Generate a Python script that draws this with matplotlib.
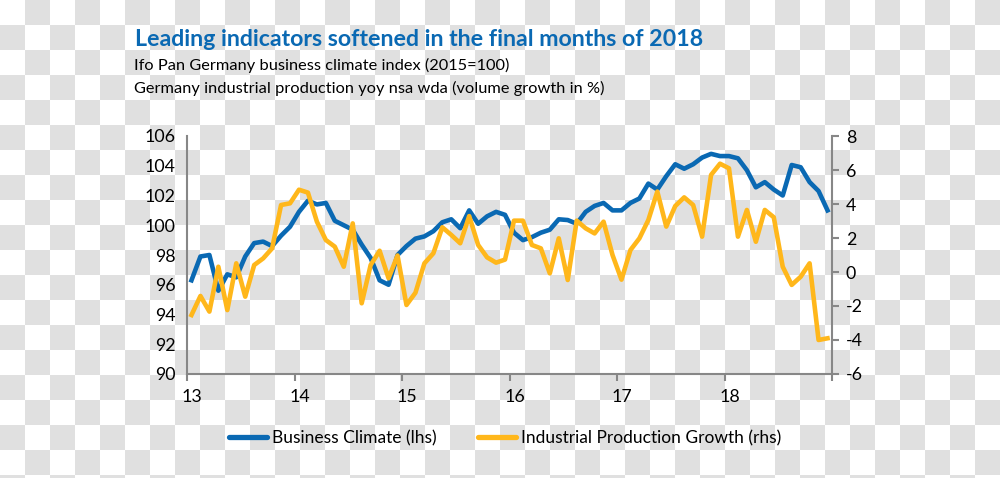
import numpy as np
import matplotlib
matplotlib.use("Agg")
import matplotlib.pyplot as plt
import matplotlib.transforms as mtransforms

# Monthly data, Jan 2013 .. Dec 2018
business_climate = [
    96.3, 97.9, 98.0, 95.6, 96.7, 96.5, 97.9, 98.8, 98.9, 98.6, 99.3, 99.9,
    100.9, 101.65, 101.4, 101.5, 100.3, 100.0, 99.7, 98.7, 97.8, 96.3, 96.0, 98.0,
    98.6, 99.1, 99.25, 99.6, 100.2, 100.4, 99.8, 101.0, 100.1, 100.6, 100.9, 100.7,
    99.5, 99.0, 99.2, 99.5, 99.7, 100.4, 100.35, 100.1, 100.9, 101.3, 101.5, 101.0,
    101.0, 101.5, 101.8, 102.8, 102.4, 103.3, 104.1, 103.8, 104.1, 104.55, 104.8, 104.65,
    104.65, 104.5, 103.7, 102.55, 102.9, 102.4, 102.0, 104.05, 103.9, 102.9, 102.3, 101.0,
]
production_growth = [
    -2.53, -1.41, -2.33, 0.31, -2.24, 0.51, -1.45, 0.41, 0.8, 1.39, 3.94, 4.04,
    4.84, 4.67, 2.96, 1.88, 1.49, 0.31, 2.86, -1.84, 0.41, 1.25, -0.37, 0.97,
    -1.94, -1.22, 0.51, 1.1, 2.63, 2.18, 1.69, 3.29, 1.59, 0.86, 0.55, 0.73,
    3.02, 3.02, 1.59, 1.39, -0.08, 1.98, -0.47, 3.02, 2.57, 2.27, 2.96, 1.0,
    -0.45, 1.29, 1.98, 3.06, 4.73, 2.67, 3.88, 4.39, 3.94, 2.08, 5.71, 6.37,
    6.1, 2.08, 3.65, 1.78, 3.65, 3.22, 0.31, -0.76, -0.28, 0.51, -4.0, -3.9,
]
start_year = 13
year_labels = ["13", "14", "15", "16", "17", "18"]

title = "Leading indicators softened in the final months of 2018"
subtitle1 = "Ifo Pan Germany business climate index (2015=100)"
subtitle2 = "Germany industrial production yoy nsa wda (volume growth in %)"
label_lhs = "Business Climate (lhs)"
label_rhs = "Industrial Production Growth (rhs)"

BLUE = "#0a69b3"
ORANGE = "#ffb71b"
GREY = "#878787"

plt.rcParams["font.family"] = ["Lato", "DejaVu Sans"]
plt.rcParams["axes.unicode_minus"] = False

W, H = 1000, 478
fig = plt.figure(figsize=(W / 100, H / 100), dpi=100, facecolor="white")

# transparent-looking checkerboard background
yy, xx = np.indices((H, W))
checker = ((xx // 25 + yy // 25) % 2).astype(float)
bg = np.where(checker[..., None] > 0, np.array([0xe0, 0xe0, 0xe0]) / 255, np.ones(3))
fig.figimage(bg, xo=0, yo=0, origin="upper", zorder=-10)

ax = fig.add_axes([187 / W, 1 - 374 / H, (832 - 187) / W, (374 - 136) / H])
ax2 = ax.twinx()
for a in (ax, ax2):
    a.patch.set_alpha(0)

n = len(business_climate)
x = start_year + (np.arange(n) + 0.5) / 12

ax.plot(x, business_climate, color=BLUE, lw=3.3, solid_joinstyle="round")
ax2.plot(x, production_growth, color=ORANGE, lw=3.3, solid_joinstyle="round")

ax.set_xlim(start_year, start_year + 6)
ax.set_ylim(90, 106)
ax2.set_ylim(-6, 8)
ax.set_yticks(np.arange(90, 107, 2))
ax2.set_yticks(np.arange(-6, 9, 2))
ax.set_xticks(np.arange(start_year, start_year + 7))
ax.set_xticklabels(year_labels + [""])

for a in (ax, ax2):
    a.spines["top"].set_visible(False)
    for side in ("left", "right", "bottom"):
        a.spines[side].set_color(GREY)
        a.spines[side].set_linewidth(1.5)
ax.spines["right"].set_visible(False)
ax2.spines["left"].set_visible(False)
ax2.spines["bottom"].set_visible(False)

ax.tick_params(axis="y", length=0, labelsize=12.8, pad=8)
ax.tick_params(axis="x", length=5, width=1.5, color=GREY, labelsize=12.8, pad=6)
ax2.tick_params(axis="y", length=5, width=1.5, color=GREY, labelsize=12.8, pad=5)

offset = mtransforms.ScaledTranslation(5 / 100, 0, fig.dpi_scale_trans)
for lab in ax.get_xticklabels():
    lab.set_transform(lab.get_transform() + offset)

fig.text(135 / W, 1 - 40 / H, title, color=BLUE, fontsize=16.7, fontweight="bold",
         va="center", ha="left")
fig.text(134 / W, 1 - 65 / H, subtitle1, fontsize=11.75, va="center", ha="left")
fig.text(134 / W, 1 - 88 / H, subtitle2, fontsize=11.75, va="center", ha="left")

handles = [plt.Line2D([], [], color=BLUE, lw=3.8, solid_capstyle="round"),
           plt.Line2D([], [], color=ORANGE, lw=3.8, solid_capstyle="round")]
fig.legend(handles, [label_lhs, label_rhs], loc="center",
           bbox_to_anchor=(505 / W, 1 - 438 / H), ncol=2, frameon=False,
           fontsize=12.5, handlelength=2.2, handletextpad=0.25, columnspacing=2.4)

fig.savefig("out.png", dpi=100, facecolor="white")
